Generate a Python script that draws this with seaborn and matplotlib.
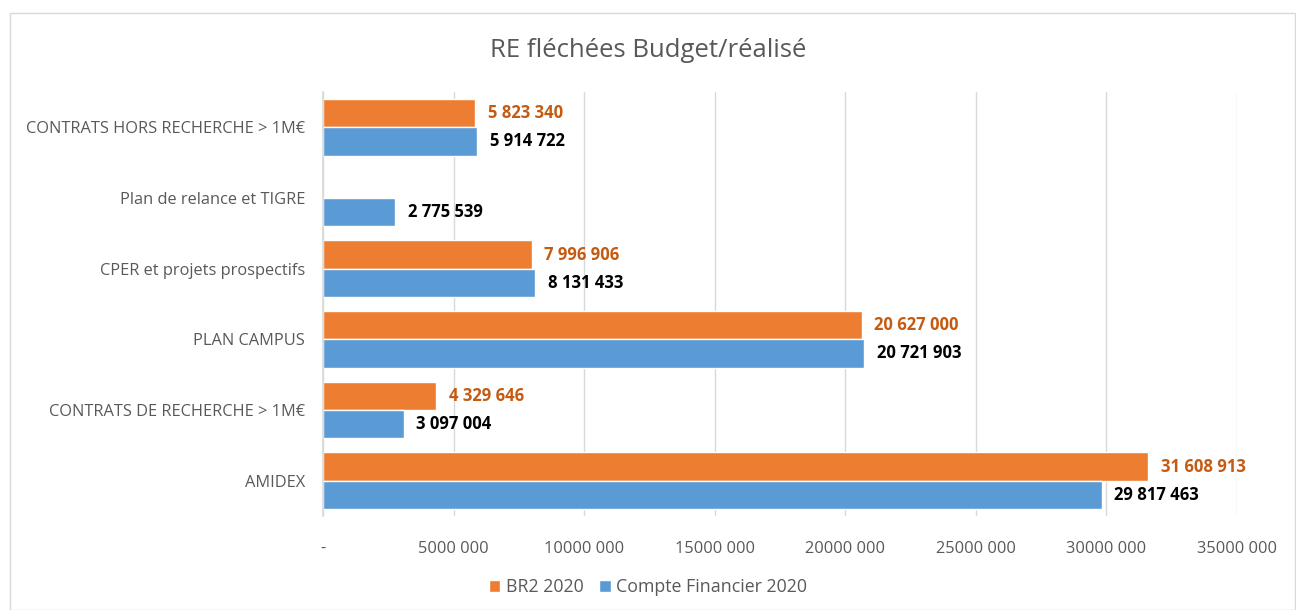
import matplotlib
matplotlib.use("Agg")
import matplotlib.pyplot as plt
import seaborn as sns
import pandas as pd
import numpy as np
from matplotlib.patches import Rectangle, Patch

categories = ["CONTRATS HORS RECHERCHE > 1M€", "Plan de relance et TIGRE",
              "CPER et projets prospectifs", "PLAN CAMPUS",
              "CONTRATS DE RECHERCHE > 1M€", "AMIDEX"]
br2_2020 = [5823340, np.nan, 7996906, 20627000, 4329646, 31608913]
cf_2020 = [5914722, 2775539, 8131433, 20721903, 3097004, 29817463]
series = ["BR2 2020", "Compte Financier 2020"]
xticks = [0, 5000000, 10000000, 15000000, 20000000, 25000000, 30000000, 35000000]

df = pd.DataFrame({
    "cat": categories * 2,
    "val": br2_2020 + cf_2020,
    "serie": [series[0]] * 6 + [series[1]] * 6,
})

sns.set_theme(style="white")
plt.rcParams["font.family"] = ["Open Sans", "DejaVu Sans"]

fig = plt.figure(figsize=(12.96, 6.10), dpi=100)
ax = fig.add_axes([0.2492, 0.1541, 0.7053, 0.6951])

colors = {"BR2 2020": "#ED7D31", "Compte Financier 2020": "#5B9BD5"}
sns.barplot(data=df, y="cat", x="val", hue="serie", hue_order=series, order=categories,
            palette=colors, orient="h", width=0.8, gap=0, ax=ax, legend=False,
            saturation=1)

def fmt(v):
    return f"{int(round(v)):,}".replace(",", " ")

label_colors = ["#C55A11", "black"]
for cont, col in zip(ax.containers, label_colors):
    for bar in cont.patches:
        if bar is None:
            continue
        v = bar.get_width()
        if np.isnan(v) or v == 0:
            continue
        y = bar.get_y() + bar.get_height() / 2
        ax.annotate(fmt(v), xy=(v, y), xytext=(9, 0),
                    textcoords="offset points", ha="left", va="center",
                    color=col, fontweight="bold", fontsize=12)

ax.set_xlim(0, 35000000)
ax.set_xticks(xticks)
ax.set_xticklabels(["-" if t == 0 else f"{t // 1000} 000" for t in xticks])
ax.tick_params(axis="x", length=0, pad=18, labelsize=11.8, labelcolor="#595959")
ax.tick_params(axis="y", length=0, pad=13, labelsize=11.8, labelcolor="#595959")
ax.set_xlabel("")
ax.set_ylabel("")
ax.grid(axis="x", color="#D9D9D9", linewidth=1)
ax.set_axisbelow(True)
for s in ["top", "right", "bottom"]:
    ax.spines[s].set_visible(False)
ax.spines["left"].set_color("#D9D9D9")

fig.text(0.5, 0.918, "RE fléchées Budget/réalisé", ha="center", va="center",
         fontsize=18.5, color="#595959")

handles = [Patch(facecolor=colors[s], label=s) for s in series]
fig.legend(handles=handles, loc="center", bbox_to_anchor=(0.5, 0.038), ncol=2,
           frameon=False, fontsize=12.8, labelcolor="#595959",
           handlelength=0.65, handleheight=0.65, handletextpad=0.3, columnspacing=0.9)

fig.patches.append(Rectangle((10 / 1296, 0), 1 - 11 / 1296, 1 - 13 / 610,
                             transform=fig.transFigure, fill=False,
                             edgecolor="#D9D9D9", linewidth=1))

fig.savefig("out.png", dpi=100)
